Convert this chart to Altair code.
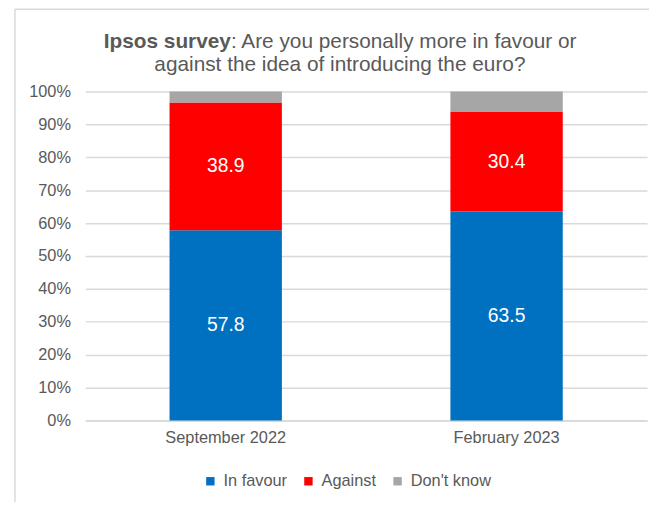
import altair as alt
import pandas as pd

periods = ["September 2022", "February 2023"]
series = ["In favour", "Against", "Don't know"]
in_favour = [57.8, 63.5]
against = [38.9, 30.4]
dont_know = [3.3, 6.1]
colors = ["#0070c0", "#ff0000", "#a6a6a6"]

rows = []
for i, p in enumerate(periods):
    for k, (s, vals) in enumerate(zip(series, [in_favour, against, dont_know])):
        rows.append({"period": p, "series": s, "value": vals[i], "order": k})
df = pd.DataFrame(rows)

FONT = "Liberation Sans"
GREY = "#595959"

base = alt.Chart(df).transform_stack(
    stack="value", groupby=["period"], as_=["v0", "v1"],
    sort=[alt.SortField("order", order="ascending")]
).transform_calculate(mid="(datum.v0 + datum.v1) / 2")

xaxis = alt.Axis(labelAngle=0, labelFontSize=16.5, labelColor=GREY,
                 labelPadding=9, ticks=False, domainColor="#d9d9d9",
                 domainWidth=1.5, labelFont=FONT, grid=False)
yaxis = alt.Axis(values=list(range(0, 101, 10)), labelExpr="datum.value + '%'",
                 labelFontSize=16.5, labelColor=GREY, labelPadding=15,
                 ticks=False, domain=False, gridColor="#d9d9d9", gridWidth=1.5,
                 labelFont=FONT, labelOverlap=False)
xscale = alt.Scale(paddingInner=0.6, paddingOuter=0.3)
yscale = alt.Scale(domain=[0, 100], nice=False)

bars = base.mark_bar().encode(
    x=alt.X("period:N", sort=periods, title=None, scale=xscale, axis=xaxis),
    y=alt.Y("v0:Q", title=None, scale=yscale, axis=yaxis),
    y2="v1:Q",
    color=alt.Color("series:N", sort=series,
                    scale=alt.Scale(domain=series, range=colors),
                    legend=alt.Legend(orient="none", legendX=118, legendY=385,
                                      direction="horizontal", title=None,
                                      symbolType="square", symbolSize=72,
                                      symbolStrokeWidth=0, labelFontSize=16.5,
                                      labelColor=GREY, labelOffset=5,
                                      columnPadding=13, padding=0, labelFont=FONT)),
    order=alt.Order("order:Q"),
)

labels = base.transform_filter("datum.series != \"Don't know\"").mark_text(
    color="white", fontSize=19.5, font=FONT, baseline="middle"
).encode(
    x=alt.X("period:N", sort=periods, title=None, scale=xscale, axis=xaxis),
    y=alt.Y("mid:Q", title=None, scale=yscale, axis=yaxis),
    text=alt.Text("value:Q", format=".1f"),
)

one = pd.DataFrame({"a": [0]})
border_left = alt.Chart(one).mark_rule(color="#d9d9d9", strokeWidth=1.5).encode(
    x=alt.value(-71), y=alt.value(-83), y2=alt.value(600))
border_top = alt.Chart(one).mark_rule(color="#d9d9d9", strokeWidth=1.5).encode(
    y=alt.value(-83), x=alt.value(-71), x2=alt.value(700))

t_bold = alt.Chart(pd.DataFrame({"t": ["Ipsos survey"]})).mark_text(
    font=FONT, fontSize=21, fontWeight="bold", color=GREY, align="right", baseline="middle"
).encode(x=alt.value(147), y=alt.value(-50), text="t:N")

t_rest = alt.Chart(pd.DataFrame({"t": [": Are you personally more in favour or"]})).mark_text(
    font=FONT, fontSize=21, color=GREY, align="left", baseline="middle"
).encode(x=alt.value(147), y=alt.value(-50), text="t:N")

t_line2 = alt.Chart(pd.DataFrame({"t": ["against the idea of introducing the euro?"]})).mark_text(
    font=FONT, fontSize=21, color=GREY, align="center", baseline="middle"
).encode(x=alt.value(257), y=alt.value(-27), text="t:N")

chart = alt.layer(border_left, border_top, bars, labels, t_bold, t_rest, t_line2).properties(
    width=567, height=332,
    autosize=alt.AutoSizeParams(type="none"),
    padding={"left": 78, "top": 82, "right": 2, "bottom": 80},
).configure(
    font=FONT,
    view=alt.ViewConfig(stroke="transparent", strokeWidth=0),
    style={"cell": {"stroke": "transparent", "strokeWidth": 0}},
)

chart.save("out.html", embed_options={"renderer": "svg", "actions": False})
